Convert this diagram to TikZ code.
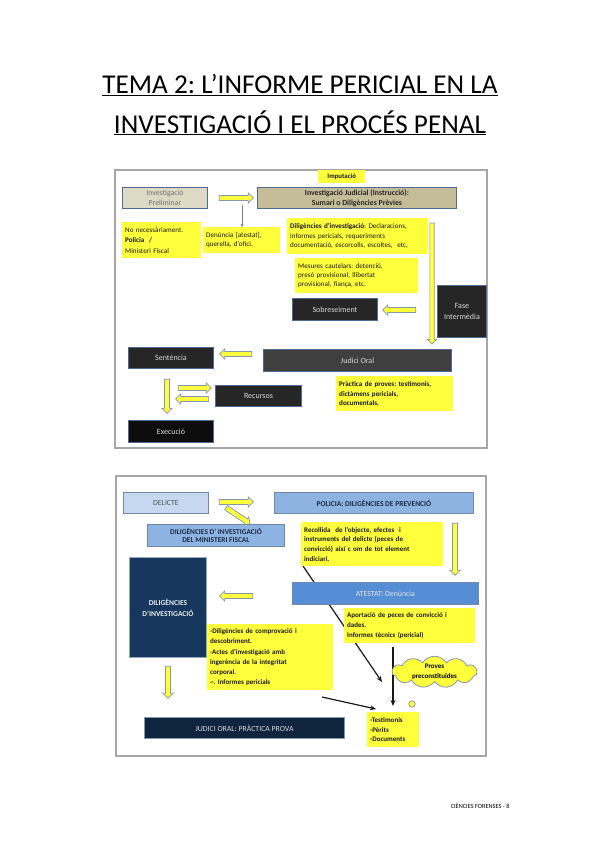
\documentclass[tikz,border=0pt]{standalone}
\usepackage{fontspec}
\setmainfont{Carlito}
\frenchspacing
\usetikzlibrary{shapes.arrows,shapes.symbols,arrows.meta}
\definecolor{yel}{HTML}{FFFF3C}
\definecolor{yedge}{HTML}{8496B0}
\definecolor{bedge}{HTML}{4F6B93}
\definecolor{framec}{HTML}{A6A6A6}
\definecolor{beige}{HTML}{DDD9C3}
\definecolor{tan}{HTML}{C4BD97}
\definecolor{dk}{HTML}{262626}
\definecolor{dkmid}{HTML}{3F3F3F}
\definecolor{dkblack}{HTML}{0D0D0D}
\definecolor{lblue}{HTML}{C6D9F1}
\definecolor{mblue}{HTML}{8DB3E2}
\definecolor{sblue}{HTML}{558ED5}
\definecolor{navy}{HTML}{17375E}
\definecolor{dnavy}{HTML}{0F243E}
\definecolor{txtnavy}{HTML}{1F2A44}
\begin{document}
\begin{tikzpicture}[x=1pt,y=-1pt,
  ybox/.style={fill=yel, anchor=north west, inner xsep=3pt, inner ysep=1.5pt, align=left,
    font=\fontsize{7.1}{9.4}\selectfont, text=black!90},
  gbox/.style={draw=bedge, line width=0.9pt, anchor=north west, align=center, inner sep=1pt},
  dbox/.style={gbox, fill=dk, text=white!85!black, font=\fontsize{8}{10.5}\selectfont},
  yarr/.style={single arrow, draw=yedge, fill=yel, line width=0.7pt, inner xsep=0pt,
    inner ysep=2.2pt, single arrow head extend=2.4pt, single arrow head indent=0pt},
  blk/.style={draw=black!90, line width=1.2pt, -{Stealth[length=6pt,width=5pt]}},
  framebox/.style={draw=framec, line width=1.2pt}
]
\useasboundingbox (0,0) rectangle (599,848);

% Title
\node[anchor=base, font=\fontsize{27.2}{30}\selectfont] (t1) at (300,94) {\underline{TEMA 2: L’INFORME PERICIAL EN LA}};
\node[anchor=base, font=\fontsize{27.2}{30}\selectfont] (t2) at (300,133) {\underline{INVESTIGACIÓ I EL PROCÉS PENAL}};

% ================= TOP DIAGRAM =================
\draw[framebox] (115,170) rectangle (487,448);

\node[ybox, font=\bfseries\fontsize{6.8}{8}\selectfont, minimum width=47pt, minimum height=13pt, align=center] (imput) at (318,170) {Imputació};

\node[gbox, fill=beige, text=black!55, minimum width=85pt, minimum height=21pt, font=\fontsize{7.8}{9.8}\selectfont] (prelim) at (122,187) {Investigació\\Preliminar};
\node[gbox, fill=tan, text=black!85, minimum width=199pt, minimum height=21pt, font=\bfseries\fontsize{7.8}{10.2}\selectfont] (instr) at (257,187) {Investigació Judicial (Instrucció):\\Sumari o Diligències Prèvies};

\node[yarr, minimum height=34pt] (ya1) at (235,198) {};
\coordinate (ga) at (242,205);

\node[ybox, text width=73pt, minimum height=36pt, font=\fontsize{7.1}{10.5}\selectfont] (nonec) at (122,222) {No necessàriament.\\\textbf{Policia\ \ /}\\Ministeri Fiscal};
\node[ybox, text width=71pt, minimum height=26pt] (denun) at (203,227) {Denúncia [atestat],\\querella, d’ofici.};
\draw[-{Stealth[length=3pt,width=3pt]}, black!50, line width=0.6pt] (ga) -- (ga |- denun.north);

\node[ybox, text width=135pt, minimum height=36pt] (dilig) at (287,218) {\textbf{Diligències d’investigació}: Declaracions,\\informes pericials, requeriments\\documentació, escorcolls, escoltes,\ \ etc,};
\node[ybox, text width=117pt, minimum height=35pt] (mesur) at (295,258) {Mesures cautelars: detenció,\\presó provisional, llibertat\\provisional, fiança, etc.};

\node[yarr, minimum height=121pt, rotate=-90, inner ysep=1.8pt] (ya2) at (432,282.5) {};

\node[dbox, minimum width=85pt, minimum height=22pt] (sobre) at (292,298) {Sobreseiment};
\node[yarr, minimum height=33pt, rotate=180] (ya3) at (400.5,310) {};
\node[dbox, minimum width=49pt, minimum height=52pt] (fase) at (437,285) {Fase\\Intermèdia};

\node[dbox, fill=dkmid, minimum width=188pt, minimum height=22pt] (judici) at (263,349) {Judici Oral};
\node[yarr, minimum height=32pt, rotate=180] (ya4) at (237,354) {};
\node[dbox, minimum width=85pt, minimum height=21pt] (sent) at (128,347) {Sentència};

\node[yarr, minimum height=34pt, rotate=-90] (ya5) at (167,395) {};
\node[yarr, minimum height=33pt] (ya6) at (193.5,388) {};
\node[yarr, minimum height=33pt, rotate=180] (ya7) at (193.5,399) {};
\node[dbox, minimum width=86pt, minimum height=21pt] (recurs) at (215,385) {Recursos};
\node[dbox, fill=dkblack, minimum width=85pt, minimum height=22pt] (exec) at (128,420) {Execució};

\node[ybox, text width=111pt, minimum height=35pt, font=\bfseries\fontsize{7.1}{9.4}\selectfont] (pract) at (336,376) {Pràctica de proves: testimonis,\\dictàmens pericials,\\documentals.};

% ================= BOTTOM DIAGRAM =================
\draw[framebox] (116,476) rectangle (486,756);

\coordinate (l1s) at (303,566);
\coordinate (l1e) at (382,682);
\draw[blk] (l1s) -- (l1e);

\node[gbox, fill=lblue, draw=bedge!80, text=black!65, minimum width=85pt, minimum height=21pt, font=\fontsize{7.8}{9}\selectfont] (delicte) at (123,492) {DELICTE};
\node[yarr, minimum height=34pt] (yb1) at (235,502) {};
\node[yarr, minimum height=29pt, rotate=-33.7] (yb2) at (237,515) {};
\node[gbox, fill=mblue, draw=bedge!80, text=txtnavy, minimum width=199pt, minimum height=21pt, font=\bfseries\fontsize{7.5}{9}\selectfont] (policia) at (274,492) {POLICIA: DILIGÈNCIES DE PREVENCIÓ};
\node[gbox, fill=mblue, draw=bedge!80, text=txtnavy, minimum width=137pt, minimum height=22pt, font=\bfseries\fontsize{7.4}{8.6}\selectfont] (mfiscal) at (147,524) {DILIGÈNCIES D’ INVESTIGACIÓ\\DEL MINISTERI FISCAL};

\node[gbox, fill=navy, draw=bedge!60, text=white!92!black, minimum width=77pt, minimum height=100pt, font=\bfseries\fontsize{7.5}{11}\selectfont] (dilinv) at (129,557) {DILIGÈNCIES\\D’INVESTIGACIÓ};

\node[ybox, text width=136pt, minimum height=44pt, font=\bfseries\fontsize{7}{9.8}\selectfont] (recoll) at (301,522) {Recollida\ \ de l’objecte, efectes\ \ i\\instruments del delicte (peces de\\convicció) així c om de tot element\\indiciari.};
\node[yarr, minimum height=52pt, rotate=-90] (yb3) at (455,548) {};

\node[gbox, fill=sblue, draw=bedge!80, text=white!90!black, minimum width=186pt, minimum height=22pt, font=\fontsize{7.8}{9}\selectfont] (atestat) at (292,582) {ATESTAT: Denúncia};
\node[yarr, minimum height=33pt, rotate=180] (yb4) at (237.5,596) {};

\node[ybox, text width=125pt, minimum height=35pt, font=\bfseries\fontsize{7}{10}\selectfont] (aport) at (344,608) {Aportació de peces de convicció i\\dades.\\Informes tècnics (pericial)};

\node[ybox, text width=120pt, minimum height=66pt, font=\bfseries\fontsize{7}{10.2}\selectfont] (comprov) at (207,624) {-Diligències de comprovació i\\descobriment.\\-Actes d’investigació amb\\ingerència de la integritat\\corporal.\\\textasciitilde. Informes pericials};

\coordinate (l2s) at (393,647);
\coordinate (l2e) at (393,706);
\draw[blk] (l2s) -- (l2e);

\node[cloud, cloud puffs=11, cloud puff arc=115, aspect=2.8, fill=yel, draw=yedge, line width=0.8pt, minimum width=85pt, minimum height=31pt, inner sep=0pt, align=center, font=\bfseries\fontsize{7}{9.5}\selectfont] (cloud) at (434.5,672) {Proves\\preconstituïdes};
\node[circle, fill=yel, draw=yedge, line width=0.8pt, minimum size=6.5pt, inner sep=0pt] (dot) at (412,704) {};

\node[yarr, minimum height=32pt, rotate=-90] (yb5) at (168,681) {};

\coordinate (l3s) at (322,697);
\coordinate (l3e) at (376,709);
\draw[blk] (l3s) -- (l3e);

\node[gbox, fill=dnavy, draw=bedge!70, text=white!85!black, minimum width=200pt, minimum height=21pt, font=\fontsize{7.8}{9}\selectfont] (judoral) at (144,717) {JUDICI ORAL: PRÀCTICA PROVA};
\node[ybox, text width=46pt, minimum height=35pt, font=\bfseries\fontsize{7}{9.6}\selectfont] (testim) at (367,712) {-Testimonis\\-Pèrits\\-Documents};

% Footer
\node[anchor=base east, font=\fontsize{6.3}{7}\selectfont] (foot) at (513,808) {CIÈNCIES FORENSES - 8};
\end{tikzpicture}
\end{document}
